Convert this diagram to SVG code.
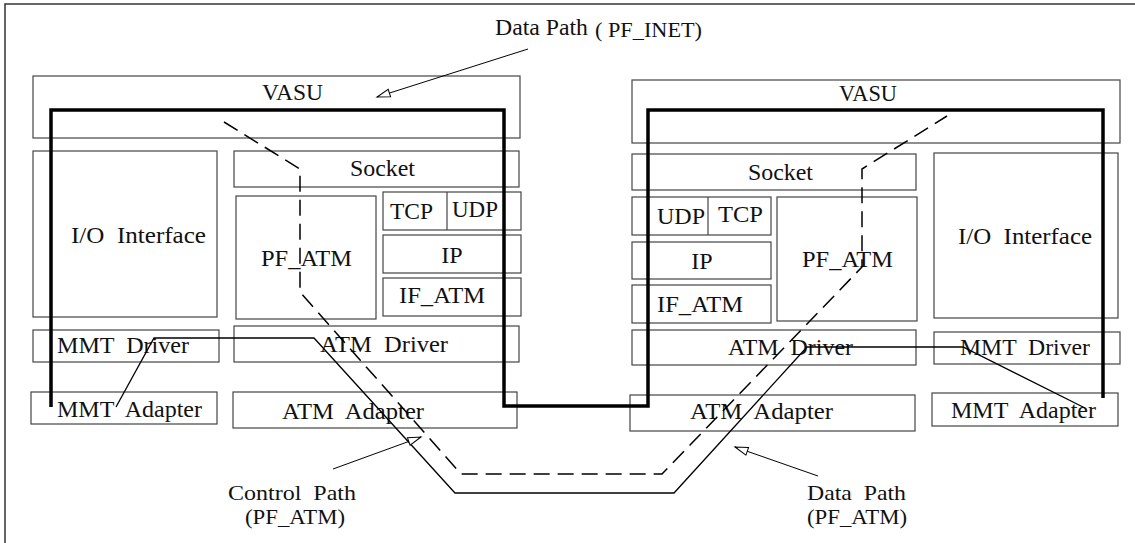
<svg xmlns="http://www.w3.org/2000/svg" width="1135" height="543" viewBox="0 0 1135 543">
<style>
.box{fill:none;stroke:#444;stroke-width:1.2}
.t{font-family:"Liberation Serif","Times New Roman",serif;font-size:24px;fill:#111;white-space:pre}
.s{font-size:22px}
.thin{fill:none;stroke:#000;stroke-width:1.3}
.dash{fill:none;stroke:#000;stroke-width:1.5;stroke-dasharray:16,8}
.thick{fill:none;stroke:#000;stroke-width:3.5}
.ann{fill:none;stroke:#000;stroke-width:1}
</style>
<defs>
<marker id="open" markerUnits="userSpaceOnUse" markerWidth="16" markerHeight="10" refX="14" refY="5" orient="auto">
<path d="M1,1 L14,5 L1,9 z" fill="#fff" stroke="#000" stroke-width="1"/>
</marker>
</defs>
<rect x="0" y="0" width="1135" height="543" fill="#fff"/>
<rect id="frame" x="5" y="4" width="1140" height="550" fill="none" stroke="#333" stroke-width="1.5"/>

<g id="left-vasu"><rect class="box" x="33" y="76" width="487" height="62"/><text class="t" x="262" y="100" textLength="61" lengthAdjust="spacingAndGlyphs">VASU</text></g>
<g id="left-io"><rect class="box" x="33" y="151" width="184" height="166"/><text class="t" x="71" y="243" textLength="135" lengthAdjust="spacingAndGlyphs">I/O  Interface</text></g>
<g id="left-socket"><rect class="box" x="234" y="151" width="285" height="36"/><text class="t" x="350" y="176" textLength="65" lengthAdjust="spacingAndGlyphs">Socket</text></g>
<g id="left-pfatm"><rect class="box" x="236" y="196" width="140" height="123"/><text class="t" x="261" y="266" textLength="91" lengthAdjust="spacingAndGlyphs">PF_ATM</text></g>
<g id="left-tcpudp"><rect class="box" x="383" y="192" width="138" height="38"/><line class="box" x1="447" y1="192" x2="447" y2="230"/><text class="t" x="390" y="219" textLength="43" lengthAdjust="spacingAndGlyphs">TCP</text><text class="t" x="452" y="217" textLength="46" lengthAdjust="spacingAndGlyphs">UDP</text></g>
<g id="left-ip"><rect class="box" x="383" y="235" width="138" height="38"/><text class="t" x="452" y="263" text-anchor="middle">IP</text></g>
<g id="left-ifatm"><rect class="box" x="383" y="278" width="138" height="38"/><text class="t" x="399" y="303" textLength="86" lengthAdjust="spacingAndGlyphs">IF_ATM</text></g>
<g id="left-mmtdriver"><rect class="box" x="33" y="330" width="186" height="32"/><text class="t" x="57" y="353" textLength="132" lengthAdjust="spacingAndGlyphs">MMT  Driver</text></g>
<g id="left-atmdriver"><rect class="box" x="234" y="326" width="285" height="36"/><text class="t" x="320" y="352" textLength="128" lengthAdjust="spacingAndGlyphs">ATM  Driver</text></g>
<g id="left-mmtadapter"><rect class="box" x="31" y="392" width="186" height="32"/><text class="t" x="57" y="417" textLength="145" lengthAdjust="spacingAndGlyphs">MMT  Adapter</text></g>
<g id="left-atmadapter"><rect class="box" x="233" y="392" width="284" height="36"/><text class="t" x="282" y="419" textLength="142" lengthAdjust="spacingAndGlyphs">ATM  Adapter</text></g>

<g id="right-vasu"><rect class="box" x="632" y="80" width="488" height="63"/><text class="t" x="839" y="101" textLength="58" lengthAdjust="spacingAndGlyphs">VASU</text></g>
<g id="right-socket"><rect class="box" x="632" y="154" width="284" height="36"/><text class="t" x="748" y="180" textLength="65" lengthAdjust="spacingAndGlyphs">Socket</text></g>
<g id="right-udptcp"><rect class="box" x="632" y="197" width="139" height="38"/><line class="box" x1="708" y1="197" x2="708" y2="235"/><text class="t" x="657" y="224" textLength="48" lengthAdjust="spacingAndGlyphs">UDP</text><text class="t" x="718" y="222" textLength="45" lengthAdjust="spacingAndGlyphs">TCP</text></g>
<g id="right-ip"><rect class="box" x="632" y="242" width="139" height="37"/><text class="t" x="702" y="269" text-anchor="middle">IP</text></g>
<g id="right-ifatm"><rect class="box" x="632" y="285" width="139" height="38"/><text class="t" x="657" y="312" textLength="86" lengthAdjust="spacingAndGlyphs">IF_ATM</text></g>
<g id="right-pfatm"><rect class="box" x="777" y="197" width="140" height="124"/><text class="t" x="802" y="267" textLength="91" lengthAdjust="spacingAndGlyphs">PF_ATM</text></g>
<g id="right-io"><rect class="box" x="934" y="153" width="184" height="165"/><text class="t" x="958" y="244" textLength="134" lengthAdjust="spacingAndGlyphs">I/O  Interface</text></g>
<g id="right-atmdriver"><rect class="box" x="632" y="330" width="284" height="35"/><text class="t" x="728" y="355" textLength="125" lengthAdjust="spacingAndGlyphs">ATM  Driver</text></g>
<g id="right-mmtdriver"><rect class="box" x="934" y="332" width="186" height="32"/><text class="t" x="960" y="355" textLength="130" lengthAdjust="spacingAndGlyphs">MMT  Driver</text></g>
<g id="right-atmadapter"><rect class="box" x="630" y="395" width="285" height="36"/><text class="t" x="690" y="419" textLength="143" lengthAdjust="spacingAndGlyphs">ATM  Adapter</text></g>
<g id="right-mmtadapter"><rect class="box" x="932" y="393" width="186" height="33"/><text class="t" x="951" y="418" textLength="145" lengthAdjust="spacingAndGlyphs">MMT  Adapter</text></g>

<g id="labels">
<text class="t" x="495" y="35" textLength="93" lengthAdjust="spacingAndGlyphs">Data Path</text>
<text class="t s" x="595" y="37" textLength="107" lengthAdjust="spacingAndGlyphs">( PF_INET)</text>
<text class="t s" x="228" y="500" textLength="128" lengthAdjust="spacingAndGlyphs">Control  Path</text>
<text class="t s" x="245" y="524" textLength="100" lengthAdjust="spacingAndGlyphs">(PF_ATM)</text>
<text class="t s" x="807" y="500" textLength="99" lengthAdjust="spacingAndGlyphs">Data  Path</text>
<text class="t s" x="807" y="524" textLength="100" lengthAdjust="spacingAndGlyphs">(PF_ATM)</text>
</g>

<g id="connectors">
<path class="thick" d="M51,407 V110 H504 V406 H648 V110 H1103 V398"/>
<path class="dash" d="M224,122 L300,169 L300,292 L461,474 L662,474 L862,267 L862,169 L947,116"/>
<path class="thin" d="M116,407 L154,338 L314,338 L455,493 L674,493 L807,347 L963,347 L1085,408"/>
<line class="ann" x1="528" y1="49" x2="377" y2="97" marker-end="url(#open)"/>
<line class="ann" x1="333" y1="469" x2="421" y2="437" marker-end="url(#open)"/>
<line class="ann" x1="818" y1="476" x2="735" y2="447" marker-end="url(#open)"/>
</g>
</svg>
